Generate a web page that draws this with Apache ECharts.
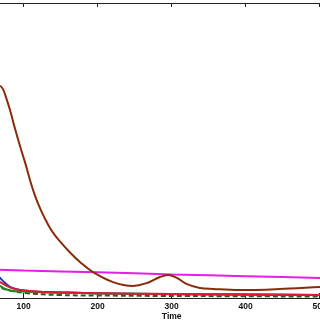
<!DOCTYPE html>
<html>
<head>
<meta charset="utf-8">
<script src="https://cdn.jsdelivr.net/npm/echarts@6/dist/echarts.min.js"></script>
<style>html,body{margin:0;padding:0;background:#fff;}#c{width:320px;height:320px;}</style>
</head>
<body>
<div id="c"></div>
<script>
// Time tick labels
const xTicks = [0, 100, 200, 300, 400, 500, 600];

// Brown curve
const brownT = [57, 68, 72, 76, 81.5, 88, 95, 102, 108.5, 115, 122, 129, 135.5, 142.3, 149, 162.6, 176, 193.6, 220.7, 247.7, 266.6, 284, 295, 307, 320.7, 338, 356, 392, 460, 500, 550, 600];
const brownV = [69.8, 71.9, 70.8, 68.1, 63.7, 57.6, 51.5, 45.8, 40.0, 34.9, 30.5, 26.8, 23.7, 21.2, 19.2, 15.4, 12.2, 8.8, 5.4, 4.1, 5.1, 7.1, 7.8, 6.8, 4.7, 3.4, 3.05, 2.7, 3.2, 3.7, 4.1, 4.5];

// Magenta line
const magentaT = [60, 100, 200, 300, 400, 500, 600];
const magentaV = [9.6, 9.3, 8.7, 8.0, 7.4, 6.8, 6.2];

// Blue line
const blueT = [60, 68, 72, 78, 85, 95, 115, 150, 200, 300, 400, 500, 600];
const blueV = [8.5, 6.8, 5.8, 4.4, 3.4, 2.7, 2.2, 1.9, 1.6, 1.36, 1.2, 1.0, 0.9];

// Green solid line
const greenT = [60, 68, 75, 85, 95, 115, 150, 200, 300, 400, 500, 600];
const greenV = [5.5, 4.1, 3.05, 2.4, 2.2, 2.0, 1.8, 1.55, 1.3, 1.15, 1.0, 0.9];

// Red line
const redT = [60, 68, 75, 82, 95, 115, 150, 200, 300, 400, 500, 600];
const redV = [6.8, 5.4, 4.4, 3.5, 2.7, 2.2, 1.9, 1.6, 1.36, 1.2, 1.0, 0.9];

// Dashed dark green line
const dashT = [60, 68, 82, 102, 149, 200, 284, 400, 500, 600];
const dashV = [4.5, 3.6, 2.5, 1.7, 1.0, 0.85, 0.7, 0.6, 0.5, 0.5];

function pairs(t, v) { return t.map((x, i) => [x, v[i]]); }

const chart = echarts.init(document.getElementById('c'), null, {renderer: 'canvas'});
const axisCommon = {
  type: 'value', min: 0, max: 600, interval: 100,
  axisLine: {show: true, onZero: false, lineStyle: {color: '#222', width: 1}},
  splitLine: {show: false}
};
function mk(name, t, v, color, width, dash) {
  return {
    name, type: 'line', data: pairs(t, v), xAxisIndex: 0, yAxisIndex: 0,
    showSymbol: false, symbol: 'none', smooth: 0.4, animation: false,
    lineStyle: {color, width, type: dash || 'solid'}, z: 2
  };
}
chart.setOption({
  animation: false,
  grid: {left: -50.3, right: -73.7, top: 3, bottom: 22, containLabel: false, outerBoundsMode: 'none'},
  xAxis: [
    Object.assign({}, axisCommon, {
      position: 'bottom',
      name: 'Time', nameLocation: 'middle', nameGap: 14, nameMoveOverlap: false,
      nameTextStyle: {fontFamily: 'Liberation Sans', fontWeight: 'bold', fontSize: 8.5, color: '#111', verticalAlign: 'top'},
      axisTick: {show: true, inside: true, length: 5, lineStyle: {color: '#222'}},
      axisLabel: {show: true, margin: 4, fontFamily: 'Liberation Sans', fontWeight: 'bold', fontSize: 8.5, color: '#111',
        formatter: v => xTicks.includes(v) ? String(v) : ''}
    }),
    Object.assign({}, axisCommon, {
      position: 'top',
      axisTick: {show: true, inside: true, length: 4, lineStyle: {color: '#222'}},
      axisLabel: {show: false}
    })
  ],
  yAxis: {type: 'value', min: 0, max: 100, show: false, splitLine: {show: false}},
  series: [
    mk('dashed', dashT, dashV, '#2f5a1f', 2, [5, 3]),
    mk('blue', blueT, blueV, '#2233c0', 2),
    mk('green', greenT, greenV, '#1a8a1a', 2),
    mk('red', redT, redV, '#dd1a30', 2),
    mk('magenta', magentaT, magentaV, '#e61ee6', 2),
    mk('brown', brownT, brownV, '#8a2c0c', 2)
  ]
});
</script>
</body>
</html>
